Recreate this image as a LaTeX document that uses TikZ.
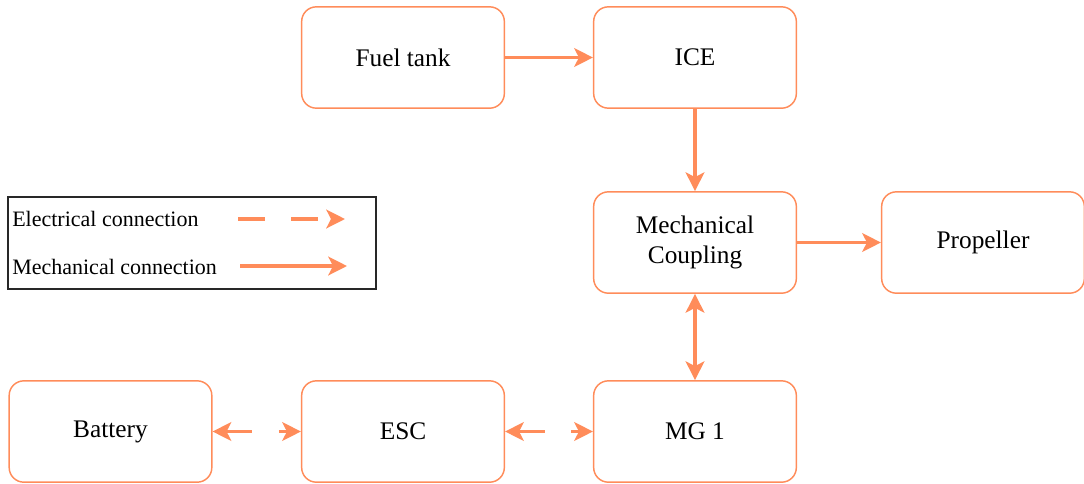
\documentclass[tikz,border=0pt]{standalone}
\usepackage{fontspec}
\setmainfont{Liberation Serif}
\usetikzlibrary{arrows.meta,positioning}
\definecolor{coral}{RGB}{255,140,90}
\definecolor{legendgray}{RGB}{40,40,40}

\tikzset{
  coraltip/.tip={Stealth[length=14pt,width=14pt,inset=3.5pt]},
  block/.style={draw=coral, line width=1.1pt, rounded corners=11pt,
    minimum width=152pt, minimum height=76pt, inner sep=0pt,
    align=center, font=\fontsize{19}{23}\selectfont},
  mech/.style={color=coral, line width=2.5pt, -coraltip},
  elec/.style={mech, dash pattern=on 20pt off 20pt},
  legendtext/.style={anchor=west, inner sep=0pt, font=\fontsize{16.5}{19}\selectfont}
}

\begin{document}
\begin{tikzpicture}[x=0.75pt,y=0.75pt,yscale=-1,xscale=1]
\useasboundingbox (0,0) rectangle (1084,483);

% Blocks
\node [block] (fuel) at (403,57.5) {Fuel tank};
\node [block] (ice) at (695,57.5) {ICE};
\node [block] (coupling) at (695,242.5) {Mechanical\\Coupling};
\node [block] (prop) at (983,242.5) {Propeller};
\node [block] (mg) at (695,431.5) {MG 1};
\node [block] (esc) at (403,431.5) {ESC};
\node [block] (batt) at (110.5,431.5) {Battery};

% Connections
\draw [mech] (fuel) -- (ice);
\draw [mech] (ice) -- (coupling);
\draw [mech] (coupling) -- (prop);
\draw [mech, coraltip-coraltip] (coupling) -- (mg);
\draw [elec, coraltip-coraltip] (batt) -- (esc);
\draw [elec, coraltip-coraltip] (esc) -- (mg);

% Legend
\draw [legendgray, line width=1.4pt] (8,197) rectangle (376,289);
\node [legendtext] (elabel) at (12,219) {Electrical connection};
\node [legendtext] (mlabel) at (12,267) {Mechanical connection};
\coordinate (e1) at (238,219);
\coordinate (e2) at (345,219);
\coordinate (m1) at (240,266);
\coordinate (m2) at (347,266);
\draw [elec] (e1) -- (e2);
\draw [mech] (m1) -- (m2);
\end{tikzpicture}
\end{document}
